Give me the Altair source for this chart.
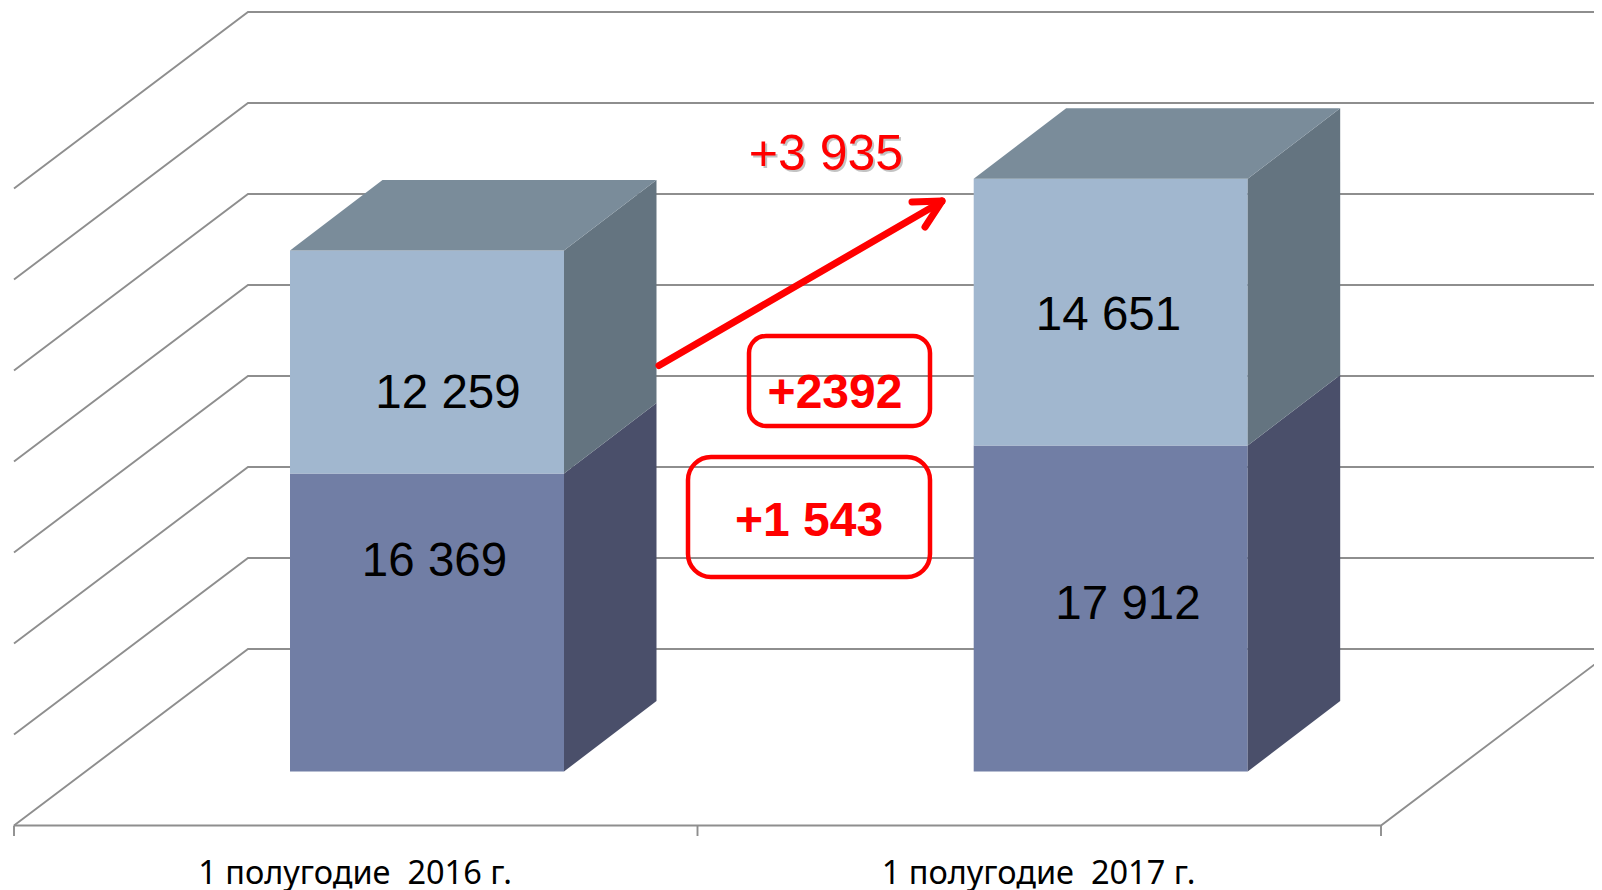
import altair as alt
import pandas as pd

periods = ["1 полугодие\u00a0\u00a02016 г.", "1 полугодие\u00a0\u00a02017 г."]
lower_values = [16369, 17912]
upper_values = [12259, 14651]
grid_steps = [0, 5000, 10000, 15000, 20000, 25000, 30000, 35000]
total_change = "+3 935"
upper_change = "+2392"
lower_change = "+1 543"

# --- layout (picture pixels on x, value units on y)
W, H = 1586, 882
PX_PER_UNIT = 0.0182
ZERO_PX = 771.5
def val(py):
    return (ZERO_PX - py) / PX_PER_UNIT

xs = alt.Scale(domain=[8, 8 + W], range=[0, W], nice=False, zero=False)
ys = alt.Scale(domain=[val(8 + H), val(8)], range=[H, 0], nice=False, zero=False)
X = alt.X("x:Q", scale=xs, axis=None)
Y = alt.Y("y:Q", scale=ys, axis=None)
X2 = alt.X2("x2:Q")
Y2 = alt.Y2("y2:Q")

BAR_X = [290, 973.7]
BAR_W = 274
BAR_DX, BAR_DV = 92.5, 70.5 / PX_PER_UNIT
GRID_LEFT, GRID_BACK, GRID_RIGHT = 14, 248, 1381
BACK_ZERO, FRONT_ZERO = val(649), val(825.5)

C_LOWER, C_UPPER = "#717EA5", "#A1B7CF"
C_LOWER_SIDE, C_UPPER_SIDE = "#4A4F6A", "#647480"
C_TOP = "#7A8C9A"
C_GRID = "#8E8E8E"
RED = "#FF0000"

layers = []

# grid walls
grid = []
for i, g in enumerate(grid_steps):
    grid += [
        {"x": GRID_LEFT, "y": FRONT_ZERO + g, "k": i},
        {"x": GRID_BACK, "y": BACK_ZERO + g, "k": i},
        {"x": 8 + W, "y": BACK_ZERO + g, "k": i},
    ]
layers.append(alt.Chart(pd.DataFrame(grid)).mark_line(color=C_GRID, strokeWidth=1.9, clip=True)
              .encode(x=X, y=Y, detail="k:N"))

# floor and ticks
floor = [
    {"x": GRID_LEFT, "y": FRONT_ZERO, "k": 0},
    {"x": GRID_RIGHT, "y": FRONT_ZERO, "k": 0},
    {"x": GRID_RIGHT + (GRID_BACK - GRID_LEFT), "y": BACK_ZERO, "k": 0},
]
for i, tx in enumerate([GRID_LEFT, (GRID_LEFT + GRID_RIGHT) / 2, GRID_RIGHT]):
    floor += [{"x": tx, "y": FRONT_ZERO, "k": i + 1}, {"x": tx, "y": val(836), "k": i + 1}]
layers.append(alt.Chart(pd.DataFrame(floor)).mark_line(color=C_GRID, strokeWidth=1.9, clip=True)
              .encode(x=X, y=Y, detail="k:N", order=alt.Order("x:Q")))

# bars
for bx, lo, up in zip(BAR_X, lower_values, upper_values):
    tot = lo + up
    x1 = bx + BAR_W
    x3 = x1 + BAR_DX
    for base, top, front, side in [(0, lo, C_LOWER, C_LOWER_SIDE), (lo, tot, C_UPPER, C_UPPER_SIDE)]:
        layers.append(alt.Chart(pd.DataFrame([{"x": bx, "x2": x1, "y": base, "y2": top}]))
                      .mark_rect(color=front).encode(x=X, x2=X2, y=Y, y2=Y2))
        s = pd.DataFrame([
            {"x": x1, "y": base, "y2": top},
            {"x": x3, "y": base + BAR_DV, "y2": top + BAR_DV},
        ])
        layers.append(alt.Chart(s).mark_area(color=side, line=False).encode(x=X, y=Y, y2=Y2))
    t = pd.DataFrame([
        {"x": bx, "y": tot, "y2": tot},
        {"x": bx + BAR_DX, "y": tot + BAR_DV, "y2": tot},
        {"x": x1, "y": tot + BAR_DV, "y2": tot},
        {"x": x3, "y": tot + BAR_DV, "y2": tot + BAR_DV},
    ])
    layers.append(alt.Chart(t).mark_area(color=C_TOP, line=False).encode(x=X, y=Y, y2=Y2))

# value labels
labels = pd.DataFrame([
    {"x": 434.5, "y": val(561.5), "t": f"{lower_values[0]:,}".replace(",", " ")},
    {"x": 448, "y": val(393.5), "t": f"{upper_values[0]:,}".replace(",", " ")},
    {"x": 1128, "y": val(605), "t": f"{lower_values[1]:,}".replace(",", " ")},
    {"x": 1108.5, "y": val(316), "t": f"{upper_values[1]:,}".replace(",", " ")},
])
layers.append(alt.Chart(labels).mark_text(font="Liberation Sans", fontSize=47.5, color="#000000", baseline="middle")
              .encode(x=X, y=Y, text="t:N"))

# period labels
cats = pd.DataFrame({"x": [355, 1038.5], "y": [val(874), val(874)], "t": periods})
layers.append(alt.Chart(cats).mark_text(font="Noto Sans", fontSize=32.5, color="#000000", baseline="middle")
              .encode(x=X, y=Y, text="t:N"))

# arrow
arrow = pd.DataFrame([
    {"x": 659, "y": val(365.5), "k": 0}, {"x": 941, "y": val(202), "k": 0},
    {"x": 912, "y": val(202), "k": 1}, {"x": 942, "y": val(201), "k": 1},
    {"x": 925, "y": val(227), "k": 2}, {"x": 942, "y": val(201), "k": 2},
])
layers.append(alt.Chart(arrow).mark_line(color=RED, strokeWidth=7, strokeCap="round")
              .encode(x=X, y=Y, detail="k:N"))

# change boxes
boxes = pd.DataFrame([
    {"x": 749, "x2": 930, "y": val(426), "y2": val(336), "k": 0},
])
boxes2 = pd.DataFrame([
    {"x": 688, "x2": 930, "y": val(577), "y2": val(457), "k": 1},
])
layers.append(alt.Chart(boxes).mark_rect(filled=False, stroke=RED, strokeWidth=4.5, cornerRadius=17)
              .encode(x=X, x2=X2, y=Y, y2=Y2))
layers.append(alt.Chart(boxes2).mark_rect(filled=False, stroke=RED, strokeWidth=4.5, cornerRadius=23)
              .encode(x=X, x2=X2, y=Y, y2=Y2))

# change labels
tot_lbl = pd.DataFrame([{"x": 826, "y": val(155), "t": total_change}])
layers.append(alt.Chart(tot_lbl).mark_text(font="Liberation Sans", fontSize=50, color="#555555", opacity=0.35,
                                           baseline="middle", dx=2, dy=2).encode(x=X, y=Y, text="t:N"))
layers.append(alt.Chart(tot_lbl).mark_text(font="Liberation Sans", fontSize=50, color=RED, baseline="middle")
              .encode(x=X, y=Y, text="t:N"))
chg = pd.DataFrame([
    {"x": 835, "y": val(394), "t": upper_change},
    {"x": 809, "y": val(522), "t": lower_change},
])
layers.append(alt.Chart(chg).mark_text(font="Liberation Sans", fontSize=48, fontWeight="bold", color=RED, baseline="middle")
              .encode(x=X, y=Y, text="t:N"))

chart = (alt.layer(*layers)
         .properties(width=W, height=H, padding=0, background="#FFFFFF")
         .configure_view(stroke=None))
chart.save("out.html", embed_options={"renderer": "svg", "actions": False})
